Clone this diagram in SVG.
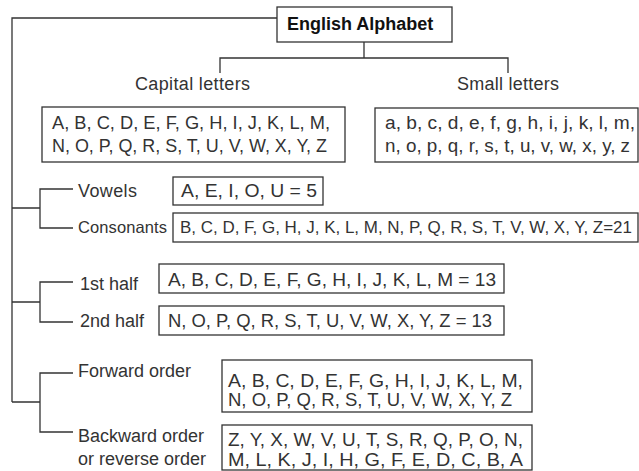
<svg xmlns="http://www.w3.org/2000/svg" width="639" height="471" viewBox="0 0 639 471">
<style>
text{font-family:"Liberation Sans",Arial,sans-serif;fill:#333;font-size:17.5px}
.t{font-weight:bold;font-size:18px;fill:#111}
.box{fill:none;stroke:#333;stroke-width:1.3}
.c{fill:none;stroke:#333;stroke-width:1.3}
.lbl{font-size:18px}
</style>
<rect width="639" height="471" fill="#fff"/>
<g id="connectors">
<path class="c" d="M277 18H12V402"/>
<path class="c" d="M364 42V58M220 73V58H508V73"/>
<path class="c" d="M12 208H40M73 189H40V228H73"/>
<path class="c" d="M12 302H40M73 282H40V322H73"/>
<path class="c" d="M12 402H40M73 373H40V432H73"/>
</g>
<g id="title">
<rect class="box" x="277" y="7" width="175" height="35"/>
<text class="t" x="287" y="30">English Alphabet</text>
</g>
<g id="capital">
<text class="lbl" x="135" y="90" textLength="115">Capital letters</text>
<rect class="box" x="42" y="107" width="303" height="55"/>
<text x="52" y="129" textLength="278" lengthAdjust="spacingAndGlyphs">A, B, C, D, E, F, G, H, I, J, K, L, M,</text>
<text x="52" y="152" textLength="275" lengthAdjust="spacingAndGlyphs">N, O, P, Q, R, S, T, U, V, W, X, Y, Z</text>
</g>
<g id="small">
<text class="lbl" x="457" y="90" textLength="102">Small letters</text>
<rect class="box" x="375" y="108" width="263" height="54"/>
<text x="385" y="129" textLength="250" lengthAdjust="spacingAndGlyphs">a, b, c, d, e, f, g, h, i, j, k, l, m,</text>
<text x="385" y="152" textLength="245" lengthAdjust="spacingAndGlyphs">n, o, p, q, r, s, t, u, v, w, x, y, z</text>
</g>
<g id="vowels">
<text class="lbl" x="78" y="197" textLength="59">Vowels</text>
<rect class="box" x="173" y="177" width="150" height="28"/>
<text x="181" y="197" textLength="136" lengthAdjust="spacingAndGlyphs">A, E, I, O, U = 5</text>
</g>
<g id="consonants">
<text x="78" y="233" style="font-size:16.5px" textLength="89">Consonants</text>
<rect class="box" x="173" y="213" width="465" height="29"/>
<text x="180" y="233" style="font-size:16.5px" textLength="452" lengthAdjust="spacingAndGlyphs">B, C, D, F, G, H, J, K, L, M, N, P, Q, R, S, T, V, W, X, Y, Z=21</text>
</g>
<g id="first-half">
<text class="lbl" x="80" y="290">1st half</text>
<rect class="box" x="159" y="264" width="345" height="29"/>
<text x="168" y="286" textLength="328" lengthAdjust="spacingAndGlyphs">A, B, C, D, E, F, G, H, I, J, K, L, M = 13</text>
</g>
<g id="second-half">
<text class="lbl" x="80" y="327">2nd half</text>
<rect class="box" x="159" y="306" width="345" height="29"/>
<text x="168" y="327" textLength="324" lengthAdjust="spacingAndGlyphs">N, O, P, Q, R, S, T, U, V, W, X, Y, Z = 13</text>
</g>
<g id="forward">
<text class="lbl" x="78" y="377">Forward order</text>
<rect class="box" x="222" y="360" width="310" height="52"/>
<text x="228" y="387" textLength="295" lengthAdjust="spacingAndGlyphs">A, B, C, D, E, F, G, H, I, J, K, L, M,</text>
<text x="228" y="406" textLength="284" lengthAdjust="spacingAndGlyphs">N, O, P, Q, R, S, T, U, V, W, X, Y, Z</text>
</g>
<g id="backward">
<text class="lbl" x="78" y="442">Backward order</text>
<text class="lbl" x="78" y="465">or reverse order</text>
<rect class="box" x="222" y="425" width="310" height="45"/>
<text x="228" y="446" textLength="295" lengthAdjust="spacingAndGlyphs">Z, Y, X, W, V, U, T, S, R, Q, P, O, N,</text>
<text x="228" y="466" textLength="295" lengthAdjust="spacingAndGlyphs">M, L, K, J, I, H, G, F, E, D, C, B, A</text>
</g>
</svg>
